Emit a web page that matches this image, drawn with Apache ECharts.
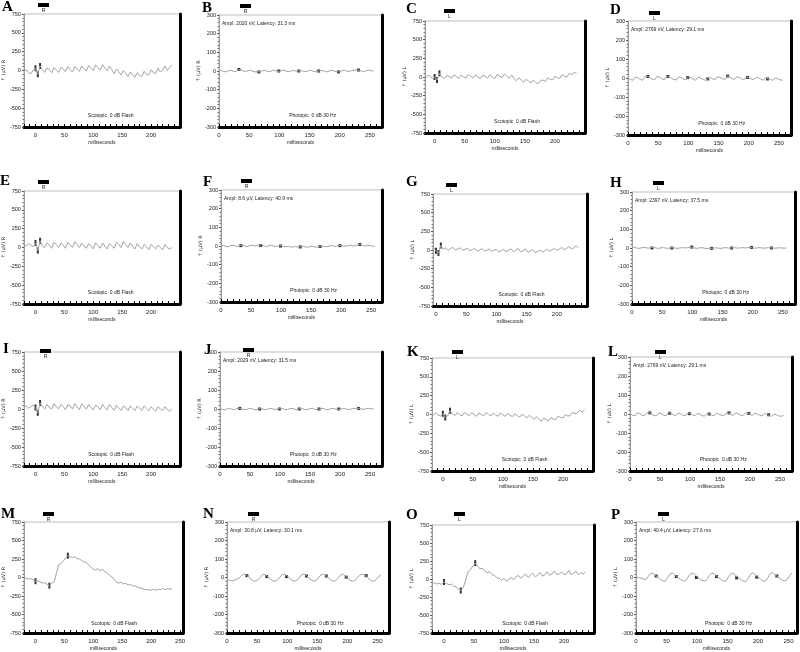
<!DOCTYPE html>
<html>
<head>
<meta charset="utf-8">
<script src="https://cdn.jsdelivr.net/npm/echarts@6/dist/echarts.min.js"></script>
<style>
  html, body { margin: 0; background: #fff; }
  #chart { width: 800px; height: 652px; }
</style>
</head>
<body>
<div id="chart"></div>
<script>
// sample times (ms)
const scotTimes = [
  -20, -16, -12, -8, -4, 0, 4, 8,
  12, 16, 20, 24, 28, 32, 36, 40,
  44, 48, 52, 56, 60, 64, 68, 72,
  76, 80, 84, 88, 92, 96, 100, 104,
  108, 112, 116, 120, 124, 128, 132, 136,
  140, 144, 148, 152, 156, 160, 164, 168,
  172, 176, 180, 184, 188, 192, 196, 200,
  204, 208, 212, 216, 220, 224, 228, 232,
  236]
const photTimes = [
  0, 4, 8, 12, 16, 20, 24, 28,
  32, 36, 40, 44, 48, 52, 56, 60,
  64, 68, 72, 76, 80, 84, 88, 92,
  96, 100, 104, 108, 112, 116, 120, 124,
  128, 132, 136, 140, 144, 148, 152, 156,
  160, 164, 168, 172, 176, 180, 184, 188,
  192, 196, 200, 204, 208, 212, 216, 220,
  224, 228, 232, 236, 240, 244, 248, 252,
  256]
const flickerTimes = [33, 66, 99, 132, 165, 198, 231]

// axis ticks / labels
const scotYTicks = { min: -750, max: 750, step: 250 }
const photYTicks = { min: -300, max: 300, step: 100 }
const scotXTicks = [-20, -10, 0, 10, 20, 30, 40, 50, 60, 70, 80, 90, 100, 110, 120, 130, 140, 150, 160, 170, 180, 190, 200, 210, 220, 230, 240, 250]
const photXTicks = [0, 10, 20, 30, 40, 50, 60, 70, 80, 90, 100, 110, 120, 130, 140, 150, 160, 170, 180, 190, 200, 210, 220, 230, 240, 250, 260, 270]
const scotXLabels = [0, 50, 100, 150, 200]
const scotXLabelsWide = [0, 50, 100, 150, 200, 250]
const photXLabels = [0, 50, 100, 150, 200, 250]

// scotopic traces (µV)
const traceA = [
  -20, 10, -30, -45, 5, 30, -50, 60,
  10, -25, 35, 15, -30, 40, 5, -25,
  45, 20, -15, 50, 10, -20, 55, 20,
  -10, 60, 25, -5, 65, 30, 0, 75,
  40, 5, 80, 30, 0, 60, 10, -40,
  20, -20, -60, 0, -40, -80, -20, -60,
  -90, -30, -60, -80, -10, -50, -60, 10,
  -30, -40, 30, -20, 10, 60, 0, 40,
  70]
const traceC = [
  0, -20, 15, 20, -20, 0, -40, 50,
  0, -20, 20, 10, -15, 30, 5, -20,
  25, 0, -15, 35, 10, -10, 30, 0,
  -20, 25, 10, -15, 30, 0, -20, 35,
  10, -10, 40, 10, -20, 30, -20, -50,
  -10, -40, -70, -30, -55, -80, -40, -75,
  -90, -50, -40, -60, -10, -30, -40, 10,
  -10, -20, 30, 10, 0, 50, 30, 60,
  50]
const traceE = [
  40, 20, 50, 30, 10, 60, -40, 90,
  20, 0, 60, 30, -10, 70, 40, 0,
  60, 30, -10, 70, 30, 0, 80, 40,
  0, 60, 20, -10, 50, 20, -20, 60,
  30, -10, 60, 20, -20, 50, 20, -10,
  70, 40, 0, 80, 40, 0, 60, 20,
  -20, 50, 10, -20, 40, 10, -30, 40,
  10, -20, 30, 0, -30, 40, 0, -20,
  0]
const traceG = [
  10, 20, 0, 15, 25, -10, -40, 60,
  10, 30, -5, 20, 35, 0, 15, 30,
  -5, 10, 25, -10, 5, 20, -15, 0,
  20, -15, -5, 15, -20, -5, 10, -25,
  -10, 10, -25, -5, 15, -20, -5, 20,
  -25, -10, 15, -30, -15, 5, -35, -20,
  0, -25, -10, 10, -15, 0, 25, -5,
  10, 35, 5, 20, 45, 15, 30, 55,
  30]
const traceI = [
  20, 40, 10, 30, 50, 20, -50, 80,
  30, 0, 60, 20, 0, 70, 30, 0,
  60, 30, -10, 60, 40, 0, 70, 30,
  -10, 70, 30, 0, 60, 20, -10, 50,
  30, -10, 60, 20, -10, 60, 20, -20,
  50, 10, -20, 40, 20, -20, 40, 10,
  -20, 40, 10, -20, 40, 10, -20, 30,
  0, -30, 30, 0, -20, 30, -10, -30,
  0]
const traceK = [
  10, -10, 20, -5, -20, 10, -40, -20,
  50, 10, -15, 25, 0, -20, 30, 5,
  -15, 25, 0, -25, 20, 0, -20, 25,
  0, -20, 20, -5, -25, 20, -5, -25,
  15, -10, -30, 10, -15, -35, 5, -20,
  -45, -10, -40, -65, -30, -60, -90, -50,
  -70, -85, -40, -60, -70, -20, -40, -45,
  0, -20, -15, 30, 10, 20, 60, 30,
  60]
const traceM = [
  0, -10, -20, -15, -30, -50, -45, -60,
  -75, -70, -90, -110, -80, -60, 50, 170,
  190, 220, 260, 295, 280, 270, 280, 255,
  250, 230, 210, 200, 170, 140, 110, 100,
  120, 90, 110, 80, 60, 30, 10, -30,
  -60, -75, -65, -85, -80, -100, -95, -115,
  -110, -130, -140, -145, -160, -165, -170, -170,
  -160, -175, -155, -170, -145, -165, -150, -160,
  -150]
const traceO = [
  -60, -55, -70, -60, -75, -40, -60, -80,
  -70, -100, -110, -140, -160, -120, -20, 100,
  130, 180, 220, 180, 140, 150, 110, 90,
  100, 60, 50, 20, 10, -20, 10, -30,
  0, 20, -10, 30, 50, 10, 40, 70,
  20, 50, 80, 30, 50, 90, 40, 60,
  100, 50, 70, 110, 60, 70, 100, 60,
  70, 120, 60, 80, 110, 60, 90, 70,
  100]

// photopic 30 Hz traces (µV)
const traceB = [
  0, 3, -3, -4, 2, 4, -2, -3,
  5, 6, 0, -3, 2, 4, -2, -5,
  -3, -5, 2, 3, -2, -4, 2, 3,
  -1, -2, 3, 4, -2, -4, 1, 3,
  -2, 1, 3, -2, -4, 2, 4, -2,
  -4, -2, 3, 2, -3, -4, 2, 4,
  -2, -5, -4, 2, 4, -1, -3, 3,
  5, 3, 4, -1, -3, 2, 5, 2,
  -1]
const traceD = [
  0, -8, -12, 5, 2, -6, -12, 8,
  10, 2, -6, -10, 8, 4, -4, -10,
  8, 6, -2, -8, -10, 6, 2, -6,
  -10, 4, 2, -6, -12, 4, 0, -6,
  -12, -4, 2, -4, -10, 6, 3, -3,
  -8, 10, 6, -2, -8, 6, 4, -4,
  -10, 5, 2, -4, -10, 4, 0, -6,
  -12, 2, -4, -8, -12, 0, -4, -10,
  -12]
const traceF = [
  0, 3, -2, -4, 2, 4, 0, -3,
  3, 5, 0, -3, 2, 4, 0, 3,
  5, 6, 0, -3, 2, 4, -1, -3,
  2, 3, -2, -4, -2, -6, -5, -2,
  -6, -5, -2, -4, -7, -3, -1, -5,
  -6, -3, 0, -3, -4, 0, 3, -1,
  -2, 2, 3, 0, -2, 3, 4, 0,
  2, 6, 8, 3, 0, 4, 2, -1,
  0]
const traceH = [
  2, 3, 0, -2, 1, 3, 1, -1,
  2, 3, 0, -2, 1, 2, -1, -2,
  1, 2, -1, -2, 1, 2, 0, 2,
  4, 3, 0, -2, 1, 2, -1, -3,
  -1, -2, -1, 1, -1, -2, 1, 2,
  -1, 0, 2, 1, -1, 1, 2, 0,
  2, 3, 1, -1, 1, 2, 0, -1,
  1, 2, 0, -1, 0, 1, 0, -1,
  0]
const traceJ = [
  2, -2, -4, 1, 3, -1, -3, 2,
  4, 1, -3, -2, 2, 3, -2, -4,
  0, 3, -1, -4, 0, 3, 1, -3,
  -1, 2, 3, -2, -4, 1, 3, -1,
  -3, 1, 3, -1, -4, 0, 3, 1,
  -3, -1, 2, 3, -2, -4, 1, 3,
  0, -3, -1, 2, 3, -2, -3, 1,
  3, 1, 4, 0, -2, 2, 4, 1,
  0]
const traceL = [
  2, -6, -10, 6, 2, -6, -10, 6,
  8, 0, -8, -10, 6, 2, -6, -10,
  6, 4, -4, -10, 4, 2, -6, -10,
  4, 4, -4, -10, 4, 0, -8, -12,
  2, 0, -6, -10, 4, 0, -6, -10,
  4, 6, -2, -8, 6, 2, -6, -10,
  4, 6, -2, -8, 4, 0, -6, -10,
  2, -2, -8, -12, 0, -4, -10, -12,
  -8]
const traceN = [
  -8, -15, -18, -15, -10, -3, 10, 18,
  12, 2, -10, -18, -20, -12, 5, 17,
  15, 3, -8, -18, -20, -12, 2, 16,
  17, 8, -5, -15, -20, -15, -2, 15,
  18, 10, -2, -14, -20, -16, -2, 14,
  18, 12, 0, -12, -20, -18, -5, 12,
  18, 10, -2, -14, -20, -16, -4, 12,
  18, 15, 5, -8, -18, -20, -10, 5,
  14]
const traceP = [
  0, 0, -3, -8, -12, 5, 22, 24,
  10, 3, -10, -18, -20, 0, 20, 24,
  12, 2, -8, -16, -20, -5, 15, 24,
  18, 5, -5, -15, -20, -12, 10, 24,
  20, 8, -2, -12, -20, -18, 5, 22,
  22, 10, 0, -10, -20, -22, -5, 18,
  25, 14, 2, -8, -18, -20, -3, 20,
  26, 15, 5, -5, -15, -18, -10, 10,
  25]

// a/b wave markers (scotopic) and flicker markers (photopic)
const markTimesA = [0, 4, 8], markA = [30, -50, 60]
const markTimesC = [0, 4, 8], markC = [0, -40, 50]
const markTimesE = [0, 4, 8], markE = [60, -40, 90]
const markTimesG = [0, 4, 8], markG = [-10, -40, 60]
const markTimesI = [0, 4, 8], markI = [20, -50, 80]
const markTimesK = [0, 4, 12], markK = [10, -40, 50]
const markTimesM = [0, 24, 56], markM = [-50, -110, 295]
const markTimesO = [0, 28, 52], markO = [-40, -160, 220]
const markB = [8, -5, 0, 0, 0, -5, 5]
const markD = [8, 8, 2, -5, 10, 3, -5]
const markF = [2, 3, 0, -5, -3, 2, 8]
const markH = [0, 0, 5, -2, 0, 3, 0]
const markJ = [3, 0, 0, 0, 0, 0, 3]
const markL = [6, 4, 2, 0, 6, 3, -4]
const markN = [10, 5, 5, 8, 8, 2, 10]
const markP = [8, 5, 0, 5, -2, 2, 8]

const scotText = 'Scotopic  0 dB Flash'
const photText = 'Photopic  0 dB 30 Hz'

// panel layout
const panels = [
  { id: 'A', scot: true, eye: 'R', trace: traceA, mt: markTimesA, mv: markA, box: [17, 14, 180, 127], xr: [-20, 250], letter: [2, 0], bar: [38, 3] },
  { id: 'B', scot: false, eye: 'R', trace: traceB, mt: flickerTimes, mv: markB, box: [219, 15, 382, 127], xr: [0, 270], letter: [202, 1], bar: [240, 4], ampl: 'Ampl: 2020 nV, Latency: 31.3 ms' },
  { id: 'C', scot: true, eye: 'L', trace: traceC, mt: markTimesC, mv: markC, box: [425, 21, 585, 133], xr: [-16, 250], letter: [406, 2], bar: [444, 9] },
  { id: 'D', scot: false, eye: 'L', trace: traceD, mt: flickerTimes, mv: markD, box: [628, 21, 791, 135], xr: [0, 270], letter: [610, 3], bar: [649, 11], ampl: 'Ampl: 2769 nV, Latency: 29.1 ms' },
  { id: 'E', scot: true, eye: 'R', trace: traceE, mt: markTimesE, mv: markE, box: [17, 191, 180, 304], xr: [-20, 250], letter: [0, 174], bar: [38, 180] },
  { id: 'F', scot: false, eye: 'R', trace: traceF, mt: flickerTimes, mv: markF, box: [221, 190, 382, 302], xr: [0, 268], letter: [203, 175], bar: [241, 179], ampl: 'Ampl: 8.6 µV, Latency: 40.9 ms' },
  { id: 'G', scot: true, eye: 'L', trace: traceG, mt: markTimesG, mv: markG, box: [433, 194, 587, 306], xr: [-5, 250], letter: [406, 175], bar: [446, 183] },
  { id: 'H', scot: false, eye: 'L', trace: traceH, mt: flickerTimes, mv: markH, box: [632, 192, 795, 304], xr: [0, 270], letter: [610, 176], bar: [653, 181], ampl: 'Ampl: 2397 nV, Latency: 37.5 ms' },
  { id: 'I', scot: true, eye: 'R', trace: traceI, mt: markTimesI, mv: markI, box: [18, 352, 180, 466], xr: [-20, 250], letter: [3, 342], bar: [40, 349] },
  { id: 'J', scot: false, eye: 'R', trace: traceJ, mt: flickerTimes, mv: markJ, box: [220, 352, 382, 466], xr: [0, 270], letter: [204, 343], bar: [243, 348], ampl: 'Ampl: 2029 nV, Latency: 31.5 ms' },
  { id: 'K', scot: true, eye: 'L', trace: traceK, mt: markTimesK, mv: markK, box: [432, 358, 593, 471], xr: [-18, 250], letter: [407, 345], bar: [452, 350] },
  { id: 'L', scot: false, eye: 'L', trace: traceL, mt: flickerTimes, mv: markL, box: [630, 357, 792, 471], xr: [0, 270], letter: [608, 345], bar: [655, 350], ampl: 'Ampl: 2769 nV, Latency: 29.1 ms' },
  { id: 'M', scot: true, eye: 'R', trace: traceM, mt: markTimesM, mv: markM, box: [21, 522, 183, 635], xr: [-20, 255], letter: [1, 507], bar: [43, 512], wide: true },
  { id: 'N', scot: false, eye: 'R', trace: traceN, mt: flickerTimes, mv: markN, box: [227, 522, 389, 635], xr: [0, 269], letter: [203, 507], bar: [248, 512], ampl: 'Ampl: 30.8 µV, Latency: 30.1 ms' },
  { id: 'O', scot: true, eye: 'L', trace: traceO, mt: markTimesO, mv: markO, box: [432, 525, 594, 635], xr: [-20, 250], letter: [406, 508], bar: [454, 512] },
  { id: 'P', scot: false, eye: 'L', trace: traceP, mt: flickerTimes, mv: markP, box: [636, 522, 797, 635], xr: [0, 264], letter: [611, 508], bar: [658, 512], ampl: 'Ampl: 40.4 µV, Latency: 27.6 ms' },
]

const zip = (xs, ys) => ys.map((y, k) => [xs[k], y])
const FONT = '"Liberation Sans", Arial, sans-serif'

const option = {
  animation: false,
  backgroundColor: '#fff',
  textStyle: { fontFamily: FONT },
  grid: [],
  xAxis: [],
  yAxis: [],
  series: [],
  graphic: [],
}

panels.forEach((p, i) => {
  const [l, t, r, b] = p.box
  const w = r - l
  const yt = p.scot ? scotYTicks : photYTicks

  option.grid.push({
    left: l, top: t, width: w, height: b - t,
    show: true, borderColor: '#bdbdbd', borderWidth: 1, backgroundColor: '#fff',
  })

  option.xAxis.push({
    type: 'value', gridIndex: i, min: p.xr[0], max: p.xr[1],
    name: 'milliseconds', nameLocation: 'middle', nameGap: 13,
    nameTextStyle: { fontSize: 5, color: '#222' },
    axisLine: { onZero: false, lineStyle: { color: '#000', width: 3 } },
    axisTick: { show: true, inside: true, length: 3, lineStyle: { color: '#000' }, customValues: p.scot ? scotXTicks : photXTicks },
    axisLabel: { fontSize: 6, color: '#222', margin: 5, customValues: p.scot ? (p.wide ? scotXLabelsWide : scotXLabels) : photXLabels },
    splitLine: { show: false },
  })

  option.yAxis.push({
    type: 'value', gridIndex: i, min: yt.min, max: yt.max, interval: yt.step,
    name: '\u2191 (\u00b5V) ' + p.eye, nameLocation: 'middle', nameGap: 10, nameRotate: 90,
    nameTextStyle: { fontSize: 5, color: '#222', fontFamily: '"DejaVu Sans", sans-serif' },
    axisLine: { show: true, onZero: false, lineStyle: { color: '#999', width: 1 } },
    axisTick: { show: true, length: 2, lineStyle: { color: '#555' } },
    minorTick: { show: true, splitNumber: 5, length: 1.5, lineStyle: { color: '#777' } },
    axisLabel: { fontSize: 5.5, color: '#222', margin: 3 },
    splitLine: { show: false },
  })
  option.yAxis.push({
    type: 'value', gridIndex: i, position: 'right', min: yt.min, max: yt.max,
    axisLine: { show: true, onZero: false, lineStyle: { color: '#000', width: 3 } },
    axisTick: { show: false }, axisLabel: { show: false }, splitLine: { show: false },
  })

  option.series.push({
    type: 'line', xAxisIndex: i, yAxisIndex: 2 * i,
    data: zip(p.scot ? scotTimes : photTimes, p.trace),
    showSymbol: false, silent: true, clip: true,
    lineStyle: { color: '#a2a2a2', width: 1 },
  })
  option.series.push({
    type: 'scatter', xAxisIndex: i, yAxisIndex: 2 * i,
    data: zip(p.mt, p.mv), symbol: 'rect',
    symbolSize: p.scot ? [2, 6] : [3, 3], silent: true,
    itemStyle: { color: '#000' },
  })

  // panel letter, stimulus bar, annotations
  option.graphic.push({
    type: 'text', left: p.letter[0], top: p.letter[1],
    style: { text: p.id, font: 'bold 15px "Liberation Serif", "Times New Roman", serif', fill: '#000' },
  })
  option.graphic.push({
    type: 'rect', shape: { x: p.bar[0], y: p.bar[1], width: 11, height: 4 },
    style: { fill: '#000' },
  })
  option.graphic.push({
    type: 'text', style: { x: p.bar[0] + 5.5, y: p.bar[1] + 5, text: p.eye, font: '5px ' + FONT, fill: '#222', align: 'center' },
  })
  option.graphic.push({
    type: 'text',
    style: { x: l + 0.575 * w, y: b - 11, text: p.scot ? scotText : photText, font: '5px ' + FONT, fill: '#222', align: 'center', verticalAlign: 'middle' },
  })
  if (p.ampl) {
    option.graphic.push({
      type: 'text',
      style: { x: l + 3, y: t + 9, text: p.ampl, font: '5px ' + FONT, fill: '#222', verticalAlign: 'middle' },
    })
  }
})

const chart = echarts.init(document.getElementById('chart'), null, { renderer: 'canvas' })
chart.setOption(option)
</script>
</body>
</html>
